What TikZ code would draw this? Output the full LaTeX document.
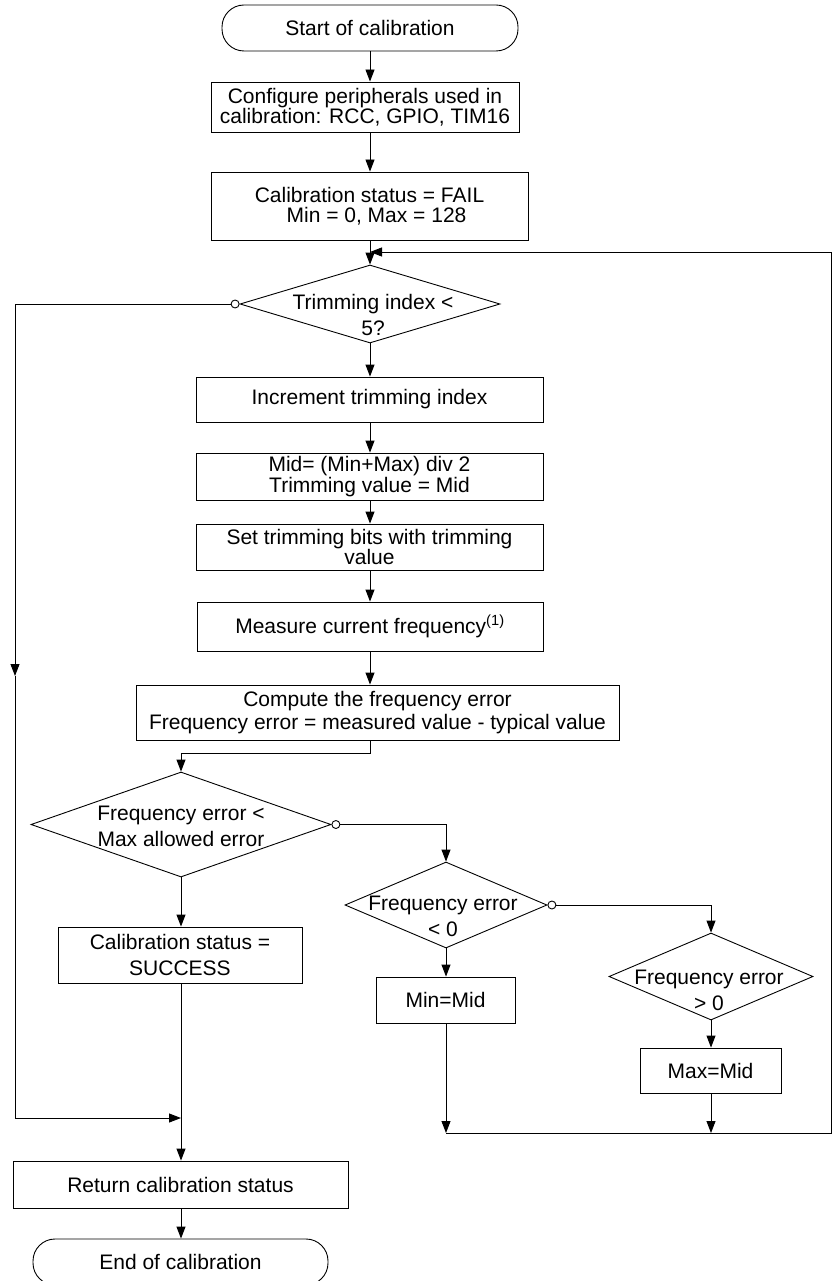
\documentclass[tikz,border=0pt]{standalone}
\usepackage{fontspec}
\setmainfont{Liberation Sans}
\usetikzlibrary{arrows.meta,shapes.geometric}
\begin{document}
\begin{tikzpicture}[x=1pt,y=-1pt,
  line width=0.9pt,
  every node/.style={font=\fontsize{21pt}{20.5pt}\selectfont, inner sep=0pt, align=center},
  box/.style={draw, rectangle},
  term/.style={draw, rectangle, rounded corners=22pt},
  decision/.style={draw, diamond},
  tight/.style={font=\fontsize{21pt}{18.5pt}\selectfont},
  wide/.style={font=\fontsize{21pt}{23pt}\selectfont},
  dtext/.style={font=\fontsize{21pt}{26pt}\selectfont},
  nocirc/.style={draw, circle, fill=white, minimum size=8pt},
  arr/.style={-{Triangle[length=12pt,width=9pt]}},
]
\useasboundingbox (0,0) rectangle (833,1281);
\clip (0,0) rectangle (833,1281);

% main column
\node[term, minimum width=296pt, minimum height=46pt] (start) at (370,28) {Start of calibration};
\node[box, minimum width=308pt, minimum height=50pt] (b1) at (365,107)
  {Configure peripherals used in\\calibration: RCC, GPIO, TIM16};
\node[box, minimum width=317pt, minimum height=68pt] (b2) at (369.5,206)
  {Calibration status = FAIL\\\hspace*{14pt}Min = 0, Max = 128};
\node[decision, minimum width=260pt, minimum height=78pt] (d1) at (370,304) {};
\node[dtext] (t1) at (373,315) {Trimming index <\\5?};
\node[nocirc, anchor=east] (c1) at (d1.west) {};
\node[box, minimum width=347pt, minimum height=45pt] (b3) at (369.5,399.5) {Increment trimming index};
\node[box, tight, minimum width=347pt, minimum height=47pt] (b4) at (369.5,476.5)
  {Mid= (Min+Max) div 2\\Trimming value = Mid};
\node[box, tight, minimum width=347pt, minimum height=46pt] (b5) at (369.5,547)
  {Set trimming bits with trimming\\value};
\node[box, minimum width=346pt, minimum height=49pt] (b6) at (370,626.5)
  {Measure current frequency\textsuperscript{(1)}};
\node[box, wide, minimum width=483pt, minimum height=55pt] (b7) at (377.5,712.5)
  {Compute the frequency error\\Frequency error = measured value - typical value};

% frequency error decisions
\node[decision, minimum width=300pt, minimum height=105pt] (d2) at (181,824.5) {};
\node[dtext] (t2) at (181,826) {Frequency error <\\Max allowed error};
\node[nocirc, anchor=west] (c2) at (d2.east) {};
\node[decision, minimum width=202pt, minimum height=86pt] (d3) at (446,905) {};
\node[dtext] (t3) at (443,916) {Frequency error\\< 0};
\node[nocirc, anchor=west] (c3) at (d3.east) {};
\node[decision, minimum width=204pt, minimum height=87pt] (d4) at (711,976.5) {};
\node[dtext] (t4) at (709,990) {Frequency error\\> 0};

\node[box, dtext, minimum width=244pt, minimum height=56pt] (bs) at (180,955)
  {Calibration status =\\SUCCESS};
\node[box, minimum width=139pt, minimum height=46pt] (bmin) at (445.5,1000) {Min=Mid};
\node[box, minimum width=141pt, minimum height=45pt] (bmax) at (710.5,1070.5) {Max=Mid};
\node[box, minimum width=335pt, minimum height=47pt] (bret) at (180.5,1184.5) {Return calibration status};
\node[term, minimum width=295pt, minimum height=46pt] (end) at (180.5,1262) {End of calibration};

% routing points
\coordinate (rtop) at (831,252);
\coordinate (rbot) at (831,1133);
\coordinate (lmid) at (15,676);
\coordinate (lend) at (181,1118);

% connectors
\draw[arr] (start.south) -- (b1.north -| start.south);
\draw[arr] (b1.south -| start) -- (b2.north -| start);
\draw[arr] (b2.south -| start) -- (d1.north);
\draw[arr] (d1.south) -- (b3.north -| d1.south);
\draw[arr] (b3.south -| start) -- (b4.north -| start);
\draw[arr] (b4.south -| start) -- (b5.north -| start);
\draw[arr] (b5.south -| start) -- (b6.north -| start);
\draw[arr] (b6.south -| start) -- (b7.north -| start);
\draw[arr] (b7.south -| start) -- ++(0,13) -| (d2.north);
\draw[arr] (c1.west) -| (lmid);
\draw[arr] (lmid) |- (lend);
\draw[arr] (d2.south) -- (bs.north -| d2.south);
\draw[arr] (bs.south -| d2.south) -- (bret.north -| d2.south);
\draw[arr] (bret.south -| d2.south) -- (end.north -| d2.south);
\draw[arr] (c2.east) -| (d3.north);
\draw[arr] (c3.east) -| (d4.north);
\draw[arr] (d3.south) -- (bmin.north -| d3.south);
\draw[arr] (d4.south) -- (bmax.north -| d4.south);
\draw[arr] (bmin.south -| d3.south) -- (d3.south |- rbot);
\draw[arr] (bmax.south -| d4.south) -- (d4.south |- rbot);
\draw[arr] (d3.south |- rbot) -- (rbot) -- (rtop) -- (start |- rtop);
\end{tikzpicture}
\end{document}
